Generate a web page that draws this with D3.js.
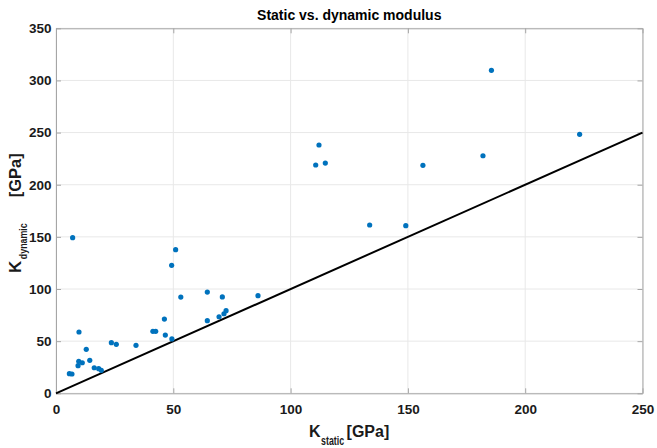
<!DOCTYPE html>
<html lang="en">
<head>
  <meta charset="UTF-8">
  <title>Static vs. dynamic modulus</title>
  <style>
    body{ margin:0; background:#fff; }
    svg{ display:block; font-family:"Liberation Sans",Arial,Helvetica,sans-serif; }
    .grid line{ stroke:#e8e8e8; stroke-width:1; }
  </style>
</head>
<body>
  <script src="https://cdn.jsdelivr.net/npm/d3@7"></script>
  <script>
    // K_static / K_dynamic [GPa]
    const kStatic  = [5.7, 6.8, 7.1, 9.4, 9.7, 9.8, 11.2, 12.9, 14.4, 16.3, 18.2, 19.3, 23.6, 25.7, 34.1,
                      41.3, 42.5, 46.2, 46.6, 49.3, 49.4, 51.0, 53.2, 64.5, 64.5, 69.5, 70.9, 71.6, 72.5, 86.1,
                      110.7, 112.1, 114.8, 133.7, 149.1, 156.4, 182.0, 185.6, 223.2];
    const kDynamic = [18.8, 18.5, 149.2, 26.5, 30.7, 58.8, 29.3, 42.2, 31.6, 24.5, 23.6, 22.0, 48.5, 47.0, 46.0,
                      59.4, 59.4, 71.2, 55.8, 122.7, 52.1, 137.7, 92.3, 97.1, 69.6, 73.4, 92.4, 76.3, 79.2, 93.6,
                      218.9, 238.1, 220.8, 161.4, 160.7, 218.6, 227.8, 309.7, 248.3];
    const refLine = [0, 250]; // K_dynamic = K_static
    const xTicks = [0, 50, 100, 150, 200, 250];
    const yTicks = [0, 50, 100, 150, 200, 250, 300, 350];

    const W = 657, H = 448;
    const m = { left: 56, right: 14.5, top: 28.3, bottom: 54.7 };
    const iw = W - m.left - m.right, ih = H - m.top - m.bottom;
    const ink = '#1a1a1a', axisCol = '#a6a6a6';

    const svg = d3.select('body').append('svg').attr('width', W).attr('height', H);
    const g = svg.append('g').attr('transform', `translate(${m.left},${m.top})`);

    const x = d3.scaleLinear().domain([0, 250]).range([0, iw]);
    const y = d3.scaleLinear().domain([0, 350]).range([ih, 0]);

    // grid
    g.append('g').attr('class', 'grid')
      .selectAll('line').data(xTicks).join('line')
      .attr('x1', d => x(d)).attr('x2', d => x(d)).attr('y1', 0).attr('y2', ih);
    g.append('g').attr('class', 'grid')
      .selectAll('line').data(yTicks).join('line')
      .attr('x1', 0).attr('x2', iw).attr('y1', d => y(d)).attr('y2', d => y(d));

    // axes: ticks point inward, box on
    const axStyle = sel => {
      sel.select('.domain').attr('stroke', axisCol);
      sel.selectAll('.tick line').attr('stroke', axisCol);
      sel.selectAll('.tick text').attr('font-size', 13.5).attr('font-weight', 'bold').attr('fill', ink);
    };
    g.append('g').attr('transform', `translate(0,${ih})`)
      .call(d3.axisBottom(x).tickValues(xTicks).tickSizeInner(-5).tickSizeOuter(0).tickPadding(11))
      .call(axStyle);
    g.append('g')
      .call(d3.axisTop(x).tickValues(xTicks).tickSizeInner(-5).tickSizeOuter(0).tickFormat(''))
      .call(axStyle);
    g.append('g')
      .call(d3.axisLeft(y).tickValues(yTicks).tickSizeInner(-5).tickSizeOuter(0).tickPadding(4.5))
      .call(axStyle);
    g.append('g').attr('transform', `translate(${iw},0)`)
      .call(d3.axisRight(y).tickValues(yTicks).tickSizeInner(-5).tickSizeOuter(0).tickFormat(''))
      .call(axStyle);

    // 1:1 line
    g.append('path')
      .datum(refLine)
      .attr('fill', 'none').attr('stroke', '#000').attr('stroke-width', 2)
      .attr('d', d3.line().x(d => x(d)).y(d => y(d)));

    // points
    g.append('g').selectAll('circle')
      .data(kStatic.map((v, i) => [v, kDynamic[i]]))
      .join('circle')
      .attr('cx', d => x(d[0])).attr('cy', d => y(d[1]))
      .attr('r', 2.6).attr('fill', '#0072BD');

    // title
    svg.append('text')
      .attr('x', m.left + iw / 2).attr('y', 19.5)
      .attr('text-anchor', 'middle').attr('font-size', 14).attr('font-weight', 'bold').attr('fill', '#000')
      .text('Static vs. dynamic modulus');

    // axis labels with TeX-like subscript, pieces laid out one after another
    function texLabel(parent, parts){
      let pos = 0;
      parts.forEach(p => {
        pos += p.gap || 0;
        const t = parent.append('text')
          .attr('x', pos).attr('y', p.dy || 0)
          .attr('font-size', p.size).attr('font-weight', 'bold').attr('fill', ink)
          .text(p.text);
        if (p.len) t.attr('textLength', p.len).attr('lengthAdjust', 'spacingAndGlyphs');
        pos += p.len || t.node().getComputedTextLength();
      });
      return pos;
    }
    texLabel(svg.append('g').attr('transform', 'translate(309,436.7)'), [
      { text: 'K', size: 16 },
      { text: 'static', size: 12, len: 23, dy: 8, gap: 0.5 },
      { text: '[GPa]', size: 16, gap: 2.5 }
    ]);
    texLabel(svg.append('g').attr('transform', 'translate(20.5,273) rotate(-90)'), [
      { text: 'K', size: 17 },
      { text: 'dynamic', size: 11.5, len: 36, dy: 6.5, gap: 1.5 },
      { text: '[GPa]', size: 16.5, gap: 26 }
    ]);
  </script>
</body>
</html>
